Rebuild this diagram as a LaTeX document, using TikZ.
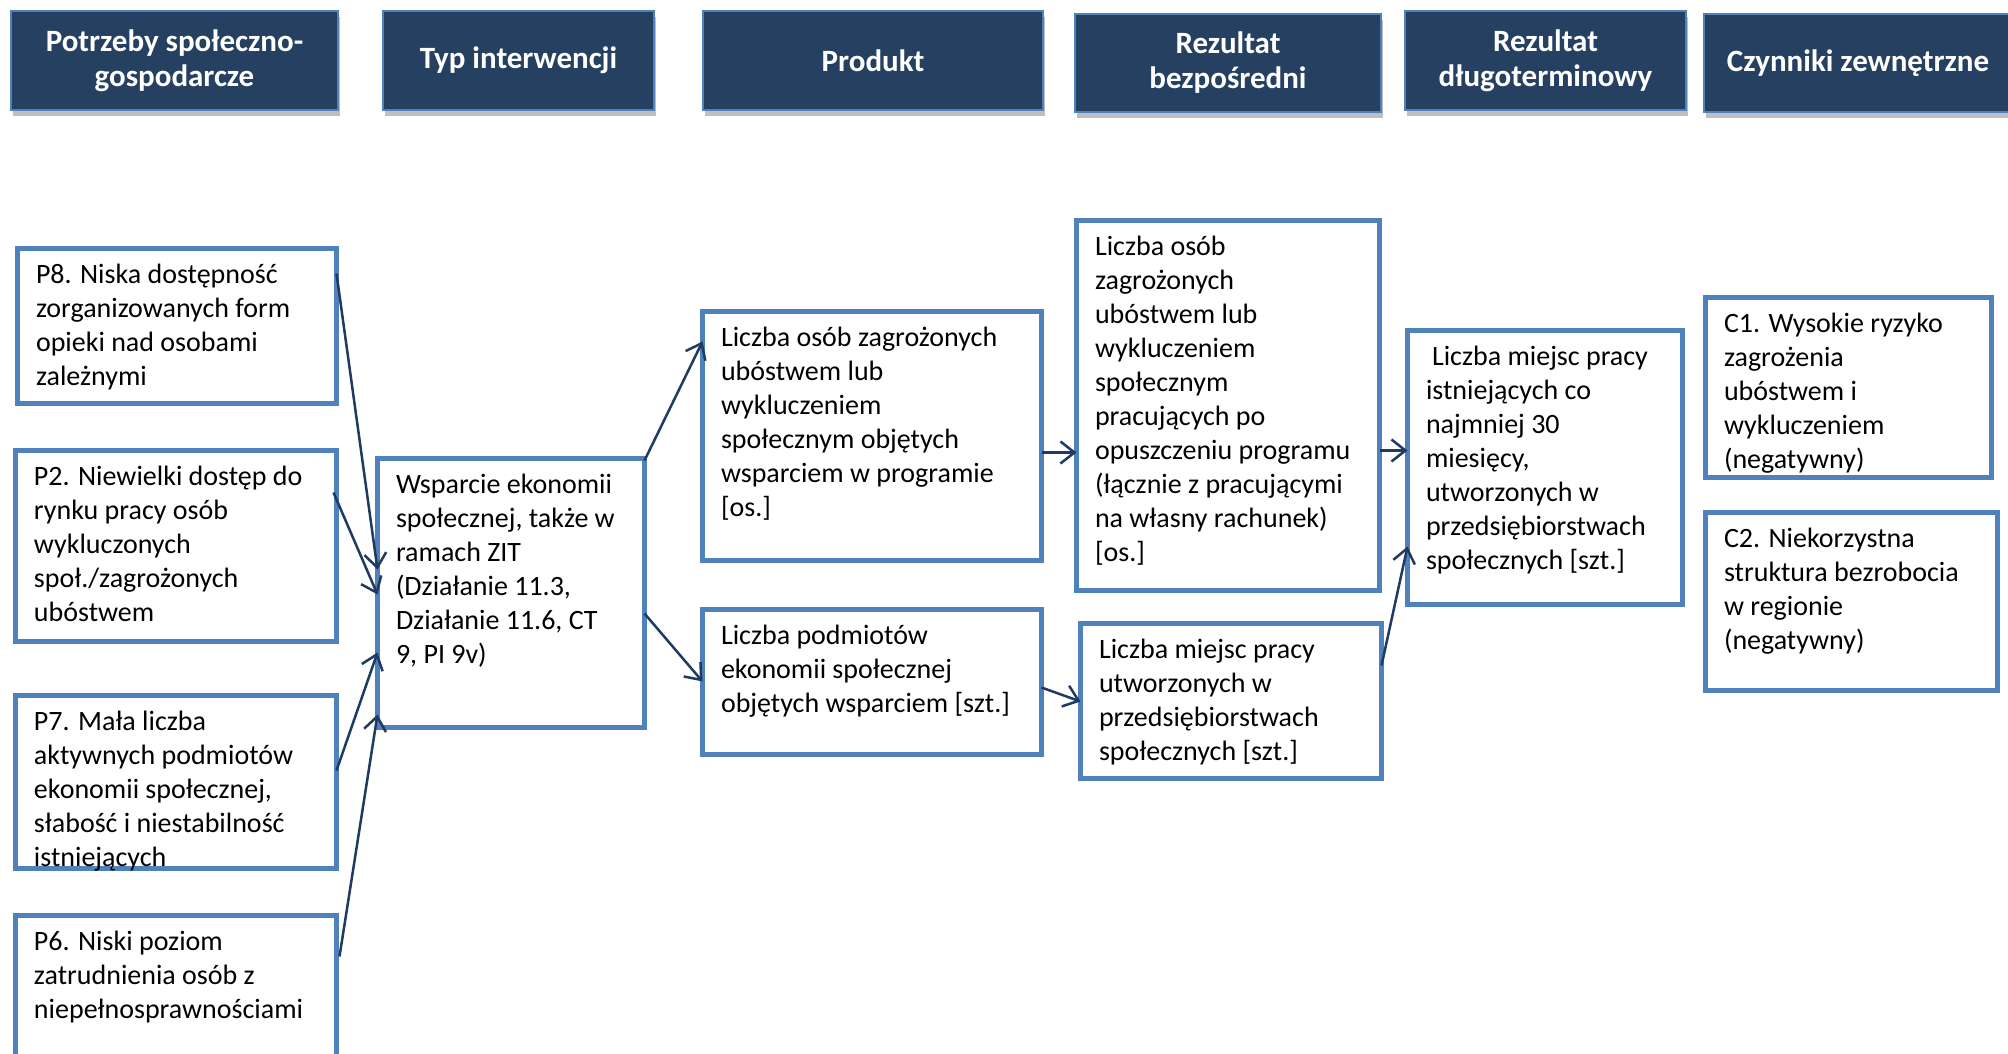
\documentclass[tikz,border=0pt]{standalone}
\usepackage{fontspec}
\setmainfont{Carlito}
\usetikzlibrary{arrows.meta,shadows}
\definecolor{boxblue}{HTML}{4F81BD}
\definecolor{hdrfill}{HTML}{254061}
\definecolor{hdrline}{HTML}{4F81BD}
\definecolor{arrcol}{HTML}{1F3A63}
\newcommand\bt[3]{\parbox[c][\dimexpr#2pt-28pt\relax][t]{\dimexpr#1pt-42pt\relax}{\raggedright\strut#3}}
\tikzset{
  box/.style={draw=boxblue, line width=5pt, fill=white, anchor=north west,
    inner sep=0pt, outer sep=0pt, font=\fontsize{28}{34}\selectfont},
  hdr/.style={draw=hdrline, line width=2pt, fill=hdrfill, text=white, anchor=north west,
    inner sep=0pt, align=center, font=\bfseries\fontsize{31}{35}\selectfont,
    drop shadow={shadow xshift=2pt, shadow yshift=-6pt, fill=black, opacity=0.25}},
  arr/.style={draw=arrcol, line width=2.5pt, -{Straight Barb[length=14pt,width=22pt,line width=2.5pt]}}
}
\newcommand\mkbox[6]{% name, x, y, w, h, text
  \node[box, minimum width=\dimexpr#4pt-5pt\relax, minimum height=\dimexpr#5pt-5pt\relax]
    (#1) at (#2+2.5,#3+2.5) {\bt{#4}{#5}{#6}};}
\newcommand\mkhdr[6]{%
  \node[hdr, minimum width=#4pt, minimum height=#5pt] (#1) at (#2,#3) {#6};}
\begin{document}
\begin{tikzpicture}[x=1pt,y=-1pt]
\useasboundingbox[fill=white] (0,0) rectangle (2008,1054);
% headers
\mkhdr{h1}{10}{10}{327}{99}{Potrzeby społeczno-\\gospodarcze}
\mkhdr{h2}{382}{10}{271}{99}{Typ interwencji}
\mkhdr{h3}{702}{10}{340}{99}{Produkt}
\mkhdr{h4}{1074}{13}{306}{98}{Rezultat\\bezpośredni}
\mkhdr{h5}{1404}{10}{281}{99}{Rezultat\\długoterminowy}
\mkhdr{h6}{1703}{13}{320}{98}{Czynniki zewnętrzne\hspace*{12pt}}
% boxes
\mkbox{p8}{15}{246}{324}{160}{P8. Niska dostępność\\zorganizowanych form\\opieki nad osobami\\zależnymi}
\mkbox{p2}{13}{448}{326}{196}{P2. Niewielki dostęp do\\rynku pracy osób\\wykluczonych\\społ./zagrożonych\\ubóstwem}
\mkbox{p7}{13}{693}{326}{178}{P7. Mała liczba\\aktywnych podmiotów\\ekonomii społecznej,\\słabość i niestabilność\\istniejących}
\mkbox{p6}{13}{913}{326}{170}{P6. Niski poziom\\zatrudnienia osób z\\niepełnosprawnościami}
\mkbox{w}{375}{456}{272}{274}{Wsparcie ekonomii\\społecznej, także w\\ramach ZIT\\(Działanie 11.3,\\Działanie 11.6, CT\\9, PI 9v)}
\mkbox{pr1}{700}{309}{344}{254}{Liczba osób zagrożonych\\ubóstwem lub\\wykluczeniem\\społecznym objętych\\wsparciem w programie\\{[os.]}}
\mkbox{pr2}{700}{607}{344}{150}{Liczba podmiotów\\ekonomii społecznej\\objętych wsparciem [szt.]}
\mkbox{rb1}{1074}{218}{308}{375}{Liczba osób\\zagrożonych\\ubóstwem lub\\wykluczeniem\\społecznym\\pracujących po\\opuszczeniu programu\\(łącznie z pracującymi\\na własny rachunek)\\{[os.]}}
\mkbox{rb2}{1078}{621}{306}{160}{Liczba miejsc pracy\\utworzonych w\\przedsiębiorstwach\\społecznych [szt.]}
\mkbox{rd}{1405}{328}{280}{279}{\hspace*{6pt}Liczba miejsc pracy\\istniejących co\\najmniej 30\\miesięcy,\\utworzonych w\\przedsiębiorstwach\\społecznych [szt.]}
\mkbox{c1}{1703}{295}{291}{185}{C1. Wysokie ryzyko\\zagrożenia\\ubóstwem i\\wykluczeniem\\(negatywny)}
\mkbox{c2}{1703}{510}{297}{183}{C2. Niekorzystna\\struktura bezrobocia\\w regionie\\(negatywny)}
% arrows
\draw[arr] ([yshift=-25pt]p8.north east) -- ([yshift=-111pt]w.north west);
\draw[arr] ([xshift=-3pt,yshift=-42pt]p2.north east) -- ([yshift=-136pt]w.north west);
\draw[arr] ([yshift=-75pt]p7.north east) -- ([yshift=-194pt]w.north west);
\draw[arr] ([xshift=3pt,yshift=-41pt]p6.north east) -- ([yshift=-256pt]w.north west);
\draw[arr] ([yshift=-2pt]w.north east) -- ([yshift=-30pt]pr1.north west);
\draw[arr] ([yshift=-155pt]w.north east) -- ([yshift=-72pt]pr2.north west);
\draw[arr] ([yshift=-141pt]pr1.north east) -- ([yshift=-232pt]rb1.north west);
\draw[arr] ([yshift=-78pt]pr2.north east) -- ([yshift=-78pt]rb2.north west);
\draw[arr] ([yshift=-230pt]rb1.north east) -- ([yshift=-120pt]rd.north west);
\draw[arr] ([yshift=-42pt]rb2.north east) -- ([yshift=-216pt]rd.north west);
\end{tikzpicture}
\end{document}
